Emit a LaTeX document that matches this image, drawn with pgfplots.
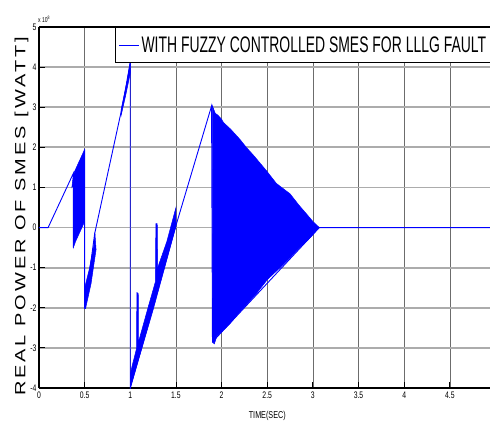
\documentclass[border=0pt]{standalone}
\usepackage{pgfplots}
\pgfplotsset{compat=1.18}
\usepackage{fontspec}
\setmainfont{Liberation Sans}
\newfontfamily\tickfont[FakeStretch=0.72]{Liberation Sans}
\newfontfamily\legfont[FakeStretch=0.62]{Liberation Sans}
\newfontfamily\ylabfont[FakeStretch=1.35, LetterSpace=20]{Liberation Sans}
\usetikzlibrary{calc}
\definecolor{sig}{RGB}{0,0,255}
\begin{document}
\begin{tikzpicture}
\begin{axis}[
  scale only axis, width=456.5bp, height=361bp,
  xmin=0, xmax=5, ymin=-4, ymax=5,
  clip mode=individual,
  axis lines*=left,
  axis line style={line width=1.8bp, black},
  xtick={0,0.5,1,1.5,2,2.5,3,3.5,4,4.5},
  ytick={-4,-3,-2,-1,0,1,2,3,4,5},
  tick align=inside, major tick length=6bp,
  tick style={black, line width=0.8bp},
  grid=major,
  x grid style={gray!85!black, line width=0.6bp},
  y grid style={gray!65, line width=1.8bp},
  /pgf/number format/assume math mode=true,
  ticklabel style={font=\tickfont\fontsize{9.5bp}{11bp}\selectfont},
  yticklabel style={xshift=1bp},
  legend style={at={(axis description cs:0.1665,1)}, anchor=north west,
    draw=black, line width=1bp, fill=white,
    font=\legfont\fontsize{22.5bp}{24bp}\selectfont,
    inner xsep=3bp, inner ysep=7bp},
  legend image code/.code={\draw[sig,line width=1bp] (0bp,0bp) -- (20bp,0bp);},
  legend cell align=left,
]
% skeleton of the trace
\addplot[sig, line width=0.9bp] coordinates {
 (0,0) (0.1,0) (0.376,1.35) (0.376,-0.5) (0.5,1.95) (0.5,-2.02)
 (0.61,-0.15) (0.92,3.1) (1.0,4.12) (1.0,-4.0) (1.5,0.05) (1.89,3.03)
 (1.9,-2.85) (3.07,0) (5,0)};
\addlegendentry{WITH FUZZY CONTROLLED SMES FOR LLLG FAULT}
% dense oscillation bands
\addplot[sig, fill=sig, line width=0.5bp, forget plot] coordinates {
 (0.36,1.0) (0.376,1.05) (0.376,-0.5) (0.40,-0.35) (0.44,-0.15) (0.49,0.1)
 (0.5,0.3) (0.5,1.95) (0.46,1.75) (0.42,1.55) (0.39,1.4) (0.376,1.3)} -- cycle;
\addplot[sig, fill=sig, line width=0.5bp, forget plot] coordinates {
 (0.5,-2.02) (0.5,-1.5) (0.55,-1.05) (0.6,-0.45) (0.612,-0.12)
 (0.625,-0.55) (0.57,-1.4) (0.51,-2.02)} -- cycle;
\addplot[sig, fill=sig, line width=0.5bp, forget plot] coordinates {
 (0.90,2.95) (0.96,3.6) (1.0,4.15) (1.0,3.85) (0.95,3.3) (0.9,2.8)} -- cycle;
\addplot[sig, fill=sig, line width=0.5bp, forget plot] coordinates {
 (1.0,-4.0) (1.25,-2.05) (1.49,-0.05) (1.5,0.0) (1.5,0.5) (1.40,-0.35)
 (1.30,-1.0) (1.295,0.1) (1.28,0.1) (1.275,-1.35) (1.20,-1.95)
 (1.09,-2.85) (1.087,-1.64) (1.072,-1.62) (1.068,-3.02) (1.02,-3.45)
 (1.0,-3.65)} -- cycle;
\addplot[sig, fill=sig, line width=0.5bp, forget plot] coordinates {
 (1.9,3.03) (1.93,2.85) (1.96,2.8) (2.0,2.7) (2.02,2.62) (2.1,2.45)
 (2.2,2.2) (2.27,2.0) (2.35,1.8) (2.49,1.42) (2.6,1.1) (2.75,0.84)
 (2.85,0.55) (2.93,0.34) (3.0,0.15) (3.07,0.0)
 (2.95,-0.3) (2.86,-0.49) (2.75,-0.75) (2.64,-1.0) (2.5,-1.3)
 (2.38,-1.65) (2.2,-2.1) (2.09,-2.4) (2.0,-2.6) (1.95,-2.7)
 (1.92,-2.9) (1.9,-2.85)} -- cycle;
\draw[line width=1.8bp, black] (rel axis cs:0,1) -- (rel axis cs:1,1);
\coordinate (SW) at (rel axis cs:0,0);
\path (rel axis cs:0,1) ++(-1bp,4bp) node[anchor=south west, inner sep=0pt,
  font=\tickfont\fontsize{7bp}{8bp}\selectfont] {x 10\textsuperscript{8}};
\path (rel axis cs:0,0.5) ++(-13.5bp,-9bp) node[rotate=90, anchor=base, inner sep=0pt,
  font=\ylabfont\fontsize{14.8bp}{16bp}\selectfont] {REAL POWER OF SMES [WATT]};
\path (rel axis cs:0.5,0) ++(0bp,-28bp) node[inner sep=0pt,
  font=\tickfont\fontsize{10bp}{11bp}\selectfont] {TIME(SEC)};
\end{axis}
\pgfresetboundingbox
\path[use as bounding box] ([shift={(-39bp,-35bp)}]SW) rectangle ([shift={(451bp,388bp)}]SW);
\end{tikzpicture}
\end{document}
